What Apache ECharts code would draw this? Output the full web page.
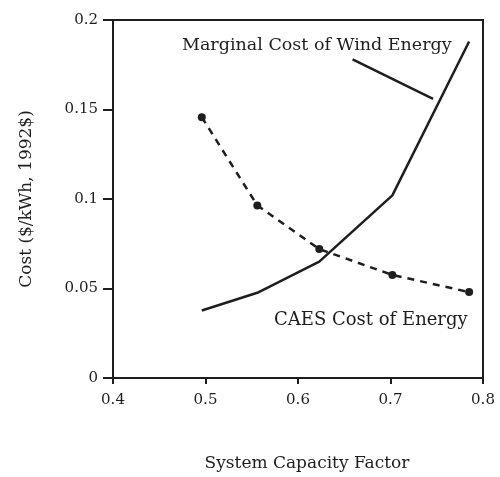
<!DOCTYPE html>
<html>
<head>
<meta charset="utf-8">
<script src="https://cdn.jsdelivr.net/npm/echarts@6/dist/echarts.min.js"></script>
<style>html,body{margin:0;padding:0;background:#fff;}#c{width:500px;height:477px;}</style>
</head>
<body>
<div id="c"></div>
<script>
var capacityFactor = [0.496, 0.556, 0.623, 0.702, 0.785];
var windCost = [0.0377, 0.0476, 0.065, 0.102, 0.188];
var caesCost = [0.1457, 0.0964, 0.072, 0.0576, 0.048];
var yTicks = [0, 0.05, 0.1, 0.15, 0.2];
var xTicks = [0.4, 0.5, 0.6, 0.7, 0.8];
var windLabel = 'Marginal Cost of Wind Energy';
var caesLabel = 'CAES Cost of Energy';
var leader = [[0.659, 0.178], [0.746, 0.156]];

var ink = '#1e1e1e';
var font = '"DejaVu Serif", "Liberation Serif", serif';

function pairs(xs, ys) { return xs.map(function (x, i) { return [x, ys[i]]; }); }

var chart = echarts.init(document.getElementById('c'), null, {renderer: 'canvas'});
chart.setOption({
  backgroundColor: '#fff',
  animation: false,
  grid: {left: 113, right: 17, top: 20, bottom: 96, show: true, borderColor: ink, borderWidth: 2, backgroundColor: 'transparent'},
  xAxis: {
    type: 'value', min: 0.4, max: 0.8, interval: 0.1,
    name: 'System Capacity Factor', nameLocation: 'middle', nameGap: 77,
    nameTextStyle: {fontFamily: font, fontSize: 17, color: ink, padding: [0, 0, 0, 18]},
    axisLine: {show: true, lineStyle: {color: ink, width: 2}},
    axisTick: {show: true, length: 6, lineStyle: {color: ink, width: 2}},
    axisLabel: {fontFamily: font, fontSize: 15, color: ink, margin: 15,
      formatter: function (v) { var s = xTicks.find(function (t) { return Math.abs(t - v) < 1e-9; }); return s === undefined ? '' : String(s); }},
    splitLine: {show: false}
  },
  yAxis: {
    type: 'value', min: 0, max: 0.2, interval: 0.05,
    name: 'Cost ($/kWh, 1992$)', nameLocation: 'middle', nameGap: 78,
    nameTextStyle: {fontFamily: font, fontSize: 17, color: ink},
    axisLine: {show: true, lineStyle: {color: ink, width: 2}},
    axisTick: {show: true, length: 10, lineStyle: {color: ink, width: 2}},
    axisLabel: {fontFamily: font, fontSize: 15, color: ink, margin: 15,
      formatter: function (v) { var s = yTicks.find(function (t) { return Math.abs(t - v) < 1e-9; }); return s === undefined ? '' : String(s); }},
    splitLine: {show: false}
  },
  series: [
    {
      type: 'line', name: windLabel, data: pairs(capacityFactor, windCost),
      symbol: 'none', lineStyle: {color: ink, width: 2.5}, z: 3
    },
    {
      type: 'line', name: caesLabel, data: pairs(capacityFactor, caesCost),
      symbol: 'circle', symbolSize: 8, itemStyle: {color: ink},
      lineStyle: {color: ink, width: 2.5, type: [7, 6]}, z: 4
    },
    {
      type: 'line', name: 'leader', data: leader,
      symbol: 'none', lineStyle: {color: ink, width: 2.5}, z: 3
    }
  ],
  graphic: [
    {type: 'text', left: 182, top: 36, style: {text: windLabel, font: '17.5px ' + font, fill: ink}},
    {type: 'text', left: 274, top: 311, style: {text: caesLabel, font: '18px ' + font, fill: ink}}
  ]
});
</script>
</body>
</html>
